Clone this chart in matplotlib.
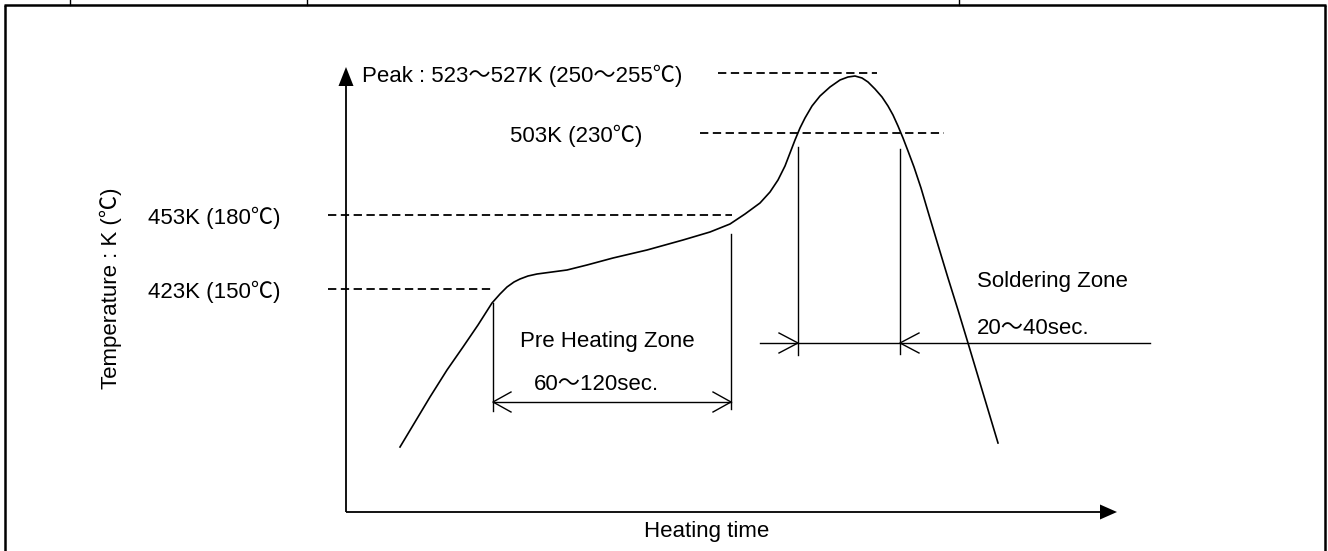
import matplotlib
matplotlib.use("Agg")
import matplotlib.pyplot as plt
from matplotlib.patches import Polygon
from matplotlib import font_manager

# ---------------- data (schematic reflow profile) -------------
# x: heating time (schematic units), y: temperature (schematic units, larger = lower)
curve_x = [400, 415, 430, 447, 463, 478, 492, 500, 507, 514, 520, 528, 537, 552, 567,
           587, 613, 647, 683, 710, 730, 745, 760, 770, 778, 785, 790, 795, 800, 805,
           812, 820, 830, 840, 848, 855, 862, 868, 875, 882, 888, 893, 898, 903, 908,
           914, 921, 929, 938, 948, 958, 968, 983, 998]
curve_y = [447, 422, 397, 370, 347, 325, 303, 294, 287, 282, 279, 276, 274, 272, 270,
           265, 258, 250, 240, 232, 224, 214, 203, 192, 180, 166, 153, 140, 128, 118,
           106, 96, 87, 80, 77, 76, 78, 82, 89, 97, 106, 115, 126, 138, 151,
           167, 188, 215, 245, 278, 310, 343, 393, 443]

level_labels = ["Peak : 523～527K (250～255℃)", "503K (230℃)", "453K (180℃)", "423K (150℃)"]
level_values = [73, 133, 215, 289]          # temperature levels (schematic)
level_dash_from = [718, 700, 328, 328]
level_dash_to = [877, 944, 732, 492]

preheat_start, preheat_end = 493, 731
solder_start, solder_end = 798, 900

ylabel = "Temperature : K (℃)"
xlabel = "Heating time"
preheat_label = ["Pre Heating Zone", "60～120sec."]
solder_label = ["Soldering Zone", "20～40sec."]

# ---------------- fonts ----------------
plt.rcParams["font.family"] = ["Liberation Sans", "Noto Sans CJK JP", "DejaVu Sans"]
FS = 16

# ---------------- figure ----------------
fig = plt.figure(figsize=(13.28, 5.51), dpi=100)
ax = fig.add_axes([0, 0, 1, 1])
ax.set_xlim(0, 1328)
ax.set_ylim(551, 0)
ax.axis("off")

K = "black"
# table frame
ax.plot([4, 1326], [5, 5], color=K, lw=1.8, solid_capstyle="butt")
ax.plot([5, 5], [5, 551], color=K, lw=1.8, solid_capstyle="butt")
ax.plot([1325, 1325], [5, 551], color=K, lw=1.8, solid_capstyle="butt")
for tx in [70, 307, 959]:
    ax.plot([tx, tx], [0, 5], color=K, lw=1.0)

# axes with arrows
ax.plot([346, 346], [512, 84], color=K, lw=1.3, solid_capstyle="butt")
ax.add_patch(Polygon([(346, 67), (338.5, 86), (353.5, 86)], closed=True, color=K, lw=0))
ax.plot([345.5, 1101], [512, 512], color=K, lw=1.3, solid_capstyle="butt")
ax.add_patch(Polygon([(1117, 512), (1100, 504.5), (1100, 519.5)], closed=True, color=K, lw=0))

# profile curve
ax.plot(curve_x, curve_y, color=K, lw=1.2, solid_joinstyle="round")

# dashed temperature levels and their labels
label_x = [362, 510, 148, 148]
for lab, yv, x0, x1, lx in zip(level_labels, level_values, level_dash_from, level_dash_to, label_x):
    ax.plot([x0, x1], [yv, yv], color=K, lw=1.3, linestyle=(0, (4.6, 2.5)))
    ax.text(lx, yv + 3, lab, fontsize=FS, ha="left", va="center")

# pre heating zone
ax.plot([preheat_start, preheat_start], [303, 411], color=K, lw=1.0)
ax.plot([preheat_end, preheat_end], [234, 409], color=K, lw=1.0)
ax.plot([preheat_start, preheat_end], [402, 402], color=K, lw=1.0)
ax.plot([preheat_start + 18, preheat_start, preheat_start + 18], [392, 402, 412], color=K, lw=1.0)
ax.plot([preheat_end - 18, preheat_end, preheat_end - 18], [392, 402, 412], color=K, lw=1.0)
ax.text(607, 342, preheat_label[0], fontsize=FS, ha="center", va="center")
ax.text(534, 384, preheat_label[1], fontsize=FS, ha="left", va="center")

# soldering zone
ax.plot([solder_start, solder_start], [147, 355], color=K, lw=1.0)
ax.plot([solder_end, solder_end], [149, 354], color=K, lw=1.0)
ax.plot([760, 1150], [343, 343], color=K, lw=1.0)
ax.plot([solder_start - 19, solder_start, solder_start - 19], [333, 343, 353], color=K, lw=1.0)
ax.plot([solder_end + 19, solder_end, solder_end + 19], [333, 343, 353], color=K, lw=1.0)
ax.text(977, 281, solder_label[0], fontsize=FS, ha="left", va="center")
ax.text(977, 328, solder_label[1], fontsize=FS, ha="left", va="center")

# axis labels
ax.text(111, 288, ylabel, fontsize=FS, rotation=90, ha="center", va="center")
ax.text(707, 531, xlabel, fontsize=FS, ha="center", va="center")

fig.savefig("out.png", dpi=100)
